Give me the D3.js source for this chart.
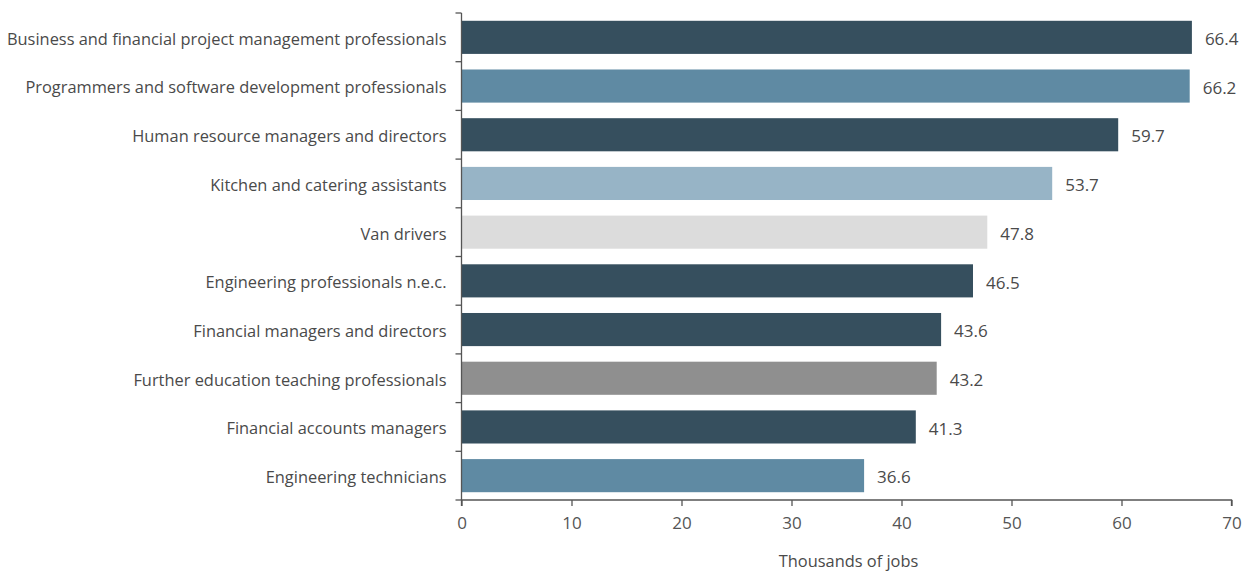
<!DOCTYPE html>
<html>
<head>
<meta charset="utf-8">
<script src="https://cdn.jsdelivr.net/npm/d3@7"></script>
<style>
  body { margin: 0; background: #fff; }
  svg text { font-family: "Open Sans", "Noto Sans", sans-serif; }
</style>
</head>
<body>
<div id="chart"></div>
<script>
// occupation names, top to bottom
const occupations = [
  "Business and financial project management professionals",
  "Programmers and software development professionals",
  "Human resource managers and directors",
  "Kitchen and catering assistants",
  "Van drivers",
  "Engineering professionals n.e.c.",
  "Financial managers and directors",
  "Further education teaching professionals",
  "Financial accounts managers",
  "Engineering technicians"
];
// thousands of jobs
const jobs = [66.4, 66.2, 59.7, 53.7, 47.8, 46.5, 43.6, 43.2, 41.3, 36.6];
const barColours = ["#364f5e", "#5f8aa3", "#364f5e", "#97b4c6", "#dcdcdc",
                    "#364f5e", "#364f5e", "#8f8f8f", "#364f5e", "#5f8aa3"];
const xTicks = [0, 10, 20, 30, 40, 50, 60, 70];

const width = 1252, height = 572;
const margin = {top: 13, right: 20, bottom: 72, left: 461.5};

const svg = d3.select("#chart")
  .append("svg")
  .attr("width", width)
  .attr("height", height);

const xScale = d3.scaleLinear()
  .domain([0, 70])
  .range([margin.left, 1231.5]);

const yScale = d3.scaleBand()
  .domain(occupations)
  .range([margin.top, height - margin.bottom])
  .paddingInner(0.32)
  .paddingOuter(0.16);

// bars
svg.selectAll(".bar")
  .data(occupations)
  .enter()
  .append("rect")
    .attr("class", "bar")
    .attr("x", xScale(0))
    .attr("y", d => yScale(d))
    .attr("width", (d, i) => xScale(jobs[i]) - xScale(0))
    .attr("height", yScale.bandwidth())
    .attr("fill", (d, i) => barColours[i]);

// value labels
svg.selectAll(".val")
  .data(occupations)
  .enter()
  .append("text")
    .attr("class", "val")
    .attr("x", (d, i) => xScale(jobs[i]) + 13)
    .attr("y", d => yScale(d) + yScale.bandwidth() / 2)
    .attr("dy", "0.45em")
    .attr("font-size", "17px")
    .attr("fill", "#4a4a4a")
    .text((d, i) => jobs[i].toFixed(1));

// x axis
const xAxis = svg.append("g")
  .attr("transform", `translate(0,${height - margin.bottom})`)
  .call(d3.axisBottom(xScale).tickValues(xTicks).tickSize(6).tickPadding(11));
xAxis.selectAll("text").attr("font-size", "17px").attr("fill", "#555");
xAxis.selectAll("line, path").attr("stroke", "#555").attr("stroke-width", 1.3);
xAxis.select(".domain").attr("d", `M${xScale(0)},6V0H${xScale(70)}V6`);

// y axis: ticks sit on band boundaries, labels centred on bands
const yAxis = svg.append("g")
  .attr("transform", `translate(${margin.left},0)`);
yAxis.append("line")
  .attr("x1", 0).attr("x2", 0)
  .attr("y1", margin.top).attr("y2", height - margin.bottom)
  .attr("stroke", "#555").attr("stroke-width", 1.3);
const step = yScale.step();
const bounds = d3.range(occupations.length + 1).map(i => margin.top + i * step);
yAxis.selectAll(".ytick")
  .data(bounds)
  .enter()
  .append("line")
    .attr("x1", -6).attr("x2", 0)
    .attr("y1", d => d).attr("y2", d => d)
    .attr("stroke", "#555").attr("stroke-width", 1.3);
yAxis.selectAll(".ylab")
  .data(occupations)
  .enter()
  .append("text")
    .attr("x", -15)
    .attr("y", d => yScale(d) + yScale.bandwidth() / 2)
    .attr("dy", "0.45em")
    .attr("text-anchor", "end")
    .attr("font-size", "16.4px")
    .attr("fill", "#4a4a4a")
    .text(d => d);

// axis title
svg.append("text")
  .attr("x", (xScale(0) + xScale(70)) / 2 + 2)
  .attr("y", 567)
  .attr("text-anchor", "middle")
  .attr("font-size", "16.4px")
  .attr("fill", "#4a4a4a")
  .text("Thousands of jobs");
</script>
</body>
</html>
